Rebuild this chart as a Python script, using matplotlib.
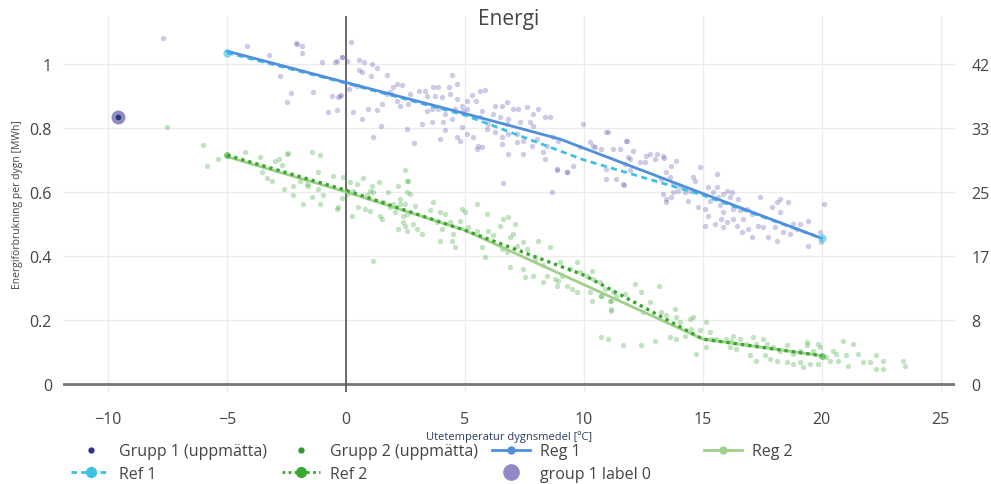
import matplotlib
matplotlib.use("Agg")
from matplotlib import pyplot as plt
from matplotlib.lines import Line2D
import numpy as np

plt.rcParams["font.family"] = ["Open Sans", "DejaVu Sans"]

# measured daily energy use, group 1 (outdoor temp [C], MWh)
g1_temp = [
    -7.69, -4.17, -2.10, -1.86, -1.86, -3.26, -2.77, -2.32, -2.47, -1.37, -1.02, -0.46, -0.39, -0.16,
    0.05, 0.20, -0.60, -0.32, -0.22, -0.74, -0.36, 0.28, 0.56, 0.76, 0.56, 0.66, 1.08, 1.32, 1.04,
    1.71, 2.13, 2.34, 1.99, 1.85, 1.71, 1.50, 1.29, 0.94, 0.66, 1.15, 1.46, 2.13, 2.27, 2.62, 2.69,
    3.08, 3.39, 3.18, 2.55, 2.86, 0.14, 0.45, -2.07, -0.25, -0.18,
    4.44, 3.67, 3.88, 4.34, 4.65, 3.32, 3.74, 4.02, 4.37, 4.68, 5.07, 5.46, 5.63, 5.84, 5.28, 3.39,
    3.60, 3.88, 4.16, 4.58, 4.86, 4.93, 5.07, 5.70, 5.63, 4.09, 3.60, 4.44, 4.86, 4.16, 3.95, 4.65,
    4.79, 5.07, 5.56, 5.70, 6.26, 6.54, 6.75, 7.03, 7.24, 7.59, 7.87, 8.08, 6.19, 6.47, 6.82, 6.75,
    7.31, 7.73, 7.87, 8.36, 8.57, 5.91, 6.26, 6.54, 6.82, 7.17, 7.45, 6.54, 6.82, 7.17, 7.45, 7.80,
    8.01, 8.29, 8.43, 8.71, 8.92, 8.36, 8.85, 9.27, 6.61, 8.64, 9.97, 9.83, 10.25, 10.46, 10.74,
    11.02, 11.23, 11.82, 10.95, 11.37, 11.68, 5.49, 5.35, 5.98,
    10.95, 10.39, 11.51, 11.93, 10.95, 12.63, 13.33, 13.47, 13.75, 9.55, 9.27, 8.85,
    11.79, 12.07, 11.86, 11.72, 11.93, 11.65, 12.35, 12.56, 12.77, 12.98, 13.08, 13.36, 13.89, 13.68,
    13.47, 13.26, 13.61, 13.75, 14.03, 13.96, 13.33, 13.47, 13.68, 14.24, 14.45, 14.66, 14.59, 14.87,
    14.80, 14.38, 15.22, 15.43, 15.58, 15.64, 15.58, 15.85, 16.00, 16.13, 16.21, 15.29, 15.71, 15.85,
    15.22, 15.08, 15.50, 15.78, 16.00, 15.85, 16.27, 16.48, 16.55, 16.27, 16.42, 16.84, 16.69, 17.05,
    16.63, 16.90, 17.05, 17.39, 17.32, 17.53, 17.89, 18.10, 18.24, 18.58, 17.74, 18.10, 18.03, 18.37,
    18.66, 18.79, 18.94, 19.08, 19.42, 19.42, 19.92, 20.08, 19.99, 18.24, 15.08,
]
g1_energy = [
    1.081, 1.057, 1.066, 1.057, 1.034, 1.028, 0.963, 0.908, 0.882, 0.911, 1.007, 1.005, 1.010, 1.021,
    1.010, 1.068, 0.901, 0.896, 0.903, 0.851, 0.857, 0.851, 1.013, 1.007, 0.982, 0.974, 1.000, 0.987, 0.963,
    0.966, 0.938, 0.934, 0.927, 0.911, 0.906, 0.875, 0.857, 0.859, 0.828, 0.771, 0.807, 0.885, 0.868, 0.875, 0.906,
    0.917, 0.901, 0.813, 0.797, 0.753, 0.922, 0.932, 1.063, 0.901, 1.021,
    0.966, 0.927, 0.927, 0.927, 0.938, 0.917, 0.901, 0.896, 0.906, 0.891, 0.885, 0.885, 0.917, 0.920, 0.903, 0.854,
    0.859, 0.859, 0.844, 0.859, 0.870, 0.854, 0.859, 0.854, 0.833, 0.818, 0.818, 0.828, 0.802, 0.792, 0.766, 0.771,
    0.760, 0.781, 0.745, 0.740, 0.870, 0.870, 0.882, 0.859, 0.859, 0.865, 0.844, 0.859, 0.844, 0.833, 0.828, 0.813,
    0.820, 0.818, 0.807, 0.833, 0.833, 0.797, 0.787, 0.771, 0.781, 0.781, 0.760, 0.750, 0.719, 0.755, 0.719, 0.745,
    0.766, 0.724, 0.745, 0.771, 0.760, 0.703, 0.672, 0.661, 0.628, 0.601, 0.813, 0.740, 0.755, 0.740, 0.734,
    0.787, 0.734, 0.760, 0.672, 0.641, 0.622, 0.734, 0.771, 0.813,
    0.786, 0.745, 0.734, 0.703, 0.641, 0.713, 0.713, 0.578, 0.599, 0.682, 0.661, 0.667,
    0.760, 0.729, 0.708, 0.688, 0.667, 0.625, 0.695, 0.695, 0.719, 0.703, 0.719, 0.705, 0.698, 0.682,
    0.662, 0.641, 0.646, 0.625, 0.620, 0.604, 0.594, 0.568, 0.583, 0.599, 0.604, 0.635, 0.646, 0.677,
    0.552, 0.573, 0.615, 0.599, 0.615, 0.583, 0.656, 0.594, 0.604, 0.583, 0.599, 0.573, 0.558, 0.536,
    0.526, 0.495, 0.500, 0.516, 0.505, 0.490, 0.547, 0.578, 0.542, 0.516, 0.495, 0.547, 0.516, 0.531,
    0.474, 0.484, 0.458, 0.583, 0.495, 0.490, 0.552, 0.568, 0.578, 0.568, 0.458, 0.448, 0.490, 0.474,
    0.469, 0.500, 0.484, 0.500, 0.510, 0.432, 0.474, 0.563, 0.443, 0.536, 0.547,
]

# measured daily energy use, group 2
g2_temp = [
    -7.53, -6.02, -5.85, -5.37, -4.24, -3.61, -3.54, -3.33, -3.12, -2.98, -2.84, -2.70, -2.49, -2.42,
    -1.44, -1.09, -2.63, -2.21, -2.21, -1.93, -1.79, -1.65, -1.58, -1.44, -1.16, -1.16, -1.09, -0.95,
    -0.53, -0.39, -0.32, -0.11, 0.03, -0.18, 0.17, 0.31, 0.45, 0.24, 0.52, 0.73, 0.80, 0.87, 1.01,
    1.08, 1.15, 1.01, 1.40, 1.43, 1.50, 1.57, 1.78, 1.85, 1.99, 2.06, 2.20, 2.27, 2.41, 2.48, 2.20,
    2.55, 2.62, 2.48, 1.12,
    2.55, 2.69, 2.27, 2.48, 2.90, 2.55, 2.41, 2.55, 2.83, 2.97, 3.18, 3.53, 3.67, 3.95, 4.16, 3.81,
    4.02, 4.37, 4.51, 4.58, 4.44, 4.86, 5.00, 4.79, 5.49, 5.14, 5.49, 5.91, 5.98, 5.70, 5.84, 6.19,
    6.47, 6.61, 6.82, 7.10, 6.89, 6.54, 6.75, 7.03, 7.17, 7.45, 7.59, 6.89, 7.45, 7.52, 7.87, 8.08,
    7.94, 8.29, 8.43, 8.57, 8.29, 8.78, 8.85, 8.92, 9.06, 9.27, 8.99, 9.48, 9.69, 9.41, 9.69, 9.83,
    10.11, 10.32, 10.39, 10.25, 10.32, 10.74, 10.88, 11.09, 11.23, 11.16, 11.37, 3.95,
    10.67, 10.74, 11.16, 11.16, 11.72, 12.14, 12.42, 12.49, 12.77, 13.16, 13.26, 13.47, 13.82, 13.89,
    14.03, 14.45, 14.59, 14.52, 14.24, 14.87, 15.15, 15.29, 15.36, 15.15, 14.73, 10.74, 11.02, 11.65,
    12.42, 12.98, 13.61, 13.89, 15.57, 15.99, 16.27, 16.55, 16.83, 16.13, 16.41, 16.20, 17.11, 17.25,
    17.53, 17.68, 17.95, 18.24, 18.52, 18.80, 19.08, 19.36, 19.64, 19.92, 16.97, 17.25, 17.60, 17.82,
    18.10, 18.52, 18.80, 19.08, 19.22, 19.50, 19.84, 20.20, 20.48, 20.62, 20.89, 20.68, 21.04, 21.31,
    21.10, 21.52, 21.73, 22.01, 22.30, 22.58, 22.30, 22.58, 23.41, 23.48, 20.34, 19.36, 19.84,
]
g2_energy = [
    0.802, 0.747, 0.680, 0.703, 0.726, 0.708, 0.661, 0.643, 0.635, 0.698, 0.703, 0.684, 0.719, 0.722,
    0.724, 0.716, 0.609, 0.620, 0.589, 0.635, 0.563, 0.625, 0.620, 0.583, 0.661, 0.609, 0.563, 0.589,
    0.651, 0.547, 0.552, 0.646, 0.594, 0.580, 0.630, 0.604, 0.625, 0.526, 0.552, 0.643, 0.547, 0.589, 0.604,
    0.620, 0.599, 0.541, 0.630, 0.526, 0.516, 0.568, 0.599, 0.552, 0.563, 0.536, 0.620, 0.563, 0.526, 0.495, 0.484,
    0.599, 0.635, 0.667, 0.385,
    0.635, 0.594, 0.578, 0.563, 0.557, 0.531, 0.505, 0.479, 0.500, 0.484, 0.469, 0.542, 0.568, 0.536, 0.531, 0.505,
    0.484, 0.505, 0.469, 0.427, 0.448, 0.547, 0.536, 0.510, 0.563, 0.490, 0.479, 0.531, 0.479, 0.427, 0.396, 0.464,
    0.495, 0.516, 0.521, 0.500, 0.458, 0.422, 0.412, 0.469, 0.432, 0.443, 0.422, 0.365, 0.359, 0.333, 0.338, 0.448,
    0.391, 0.370, 0.338, 0.427, 0.318, 0.328, 0.307, 0.323, 0.338, 0.307, 0.380, 0.297, 0.287, 0.359, 0.380, 0.349,
    0.338, 0.354, 0.328, 0.287, 0.260, 0.276, 0.297, 0.260, 0.287, 0.229, 0.276, 0.448,
    0.318, 0.276, 0.234, 0.260, 0.281, 0.313, 0.287, 0.224, 0.255, 0.307, 0.224, 0.214, 0.234, 0.208,
    0.193, 0.203, 0.208, 0.172, 0.151, 0.167, 0.193, 0.161, 0.141, 0.115, 0.094, 0.146, 0.141, 0.120,
    0.122, 0.135, 0.146, 0.141, 0.141, 0.141, 0.151, 0.141, 0.125, 0.115, 0.109, 0.135, 0.146, 0.125,
    0.141, 0.125, 0.115, 0.104, 0.120, 0.094, 0.104, 0.120, 0.104, 0.115, 0.089, 0.073, 0.089, 0.078,
    0.073, 0.068, 0.063, 0.068, 0.052, 0.063, 0.063, 0.083, 0.104, 0.094, 0.135, 0.073, 0.089, 0.125,
    0.057, 0.094, 0.068, 0.068, 0.089, 0.073, 0.047, 0.047, 0.073, 0.057, 0.073, 0.130, 0.125,
]

# regression and reference curves
curve_temp = [-5, 0, 5, 10, 15, 20]
reg1_temp = [-5, 0, 5, 9, 15, 20]
reg1 = [1.04, 0.942, 0.845, 0.765, 0.595, 0.455]
ref1 = [1.035, 0.94, 0.84, 0.70, 0.59, 0.455]
reg2 = [0.71, 0.60, 0.48, 0.31, 0.14, 0.088]
ref2 = [0.715, 0.605, 0.48, 0.34, 0.14, 0.088]

# highlighted sample
label0_temp = -9.6
label0_energy = 0.835

y_ticks = [0, 0.2, 0.4, 0.6, 0.8, 1]
y_tick_labels = ["0", "0.2", "0.4", "0.6", "0.8", "1"]
right_tick_labels = ["0", "8", "17", "25", "33", "42"]
x_ticks = [-10, -5, 0, 5, 10, 15, 20, 25]

c_g1 = "#4a3fa8"
c_g2 = "#37a52f"
c_reg1 = "#4f8fdc"
c_ref1 = "#3cc0e4"
c_reg2 = "#9fd18b"
c_ref2 = "#3aa82e"
c_label0 = "#8f89c6"
txt = "#444444"

fig = plt.figure(figsize=(9.91, 4.85), dpi=100)
ax = fig.add_axes([0.0636, 0.19, 0.9, 0.775])

ax.scatter(g1_temp, g1_energy, s=15, color=c_g1, alpha=0.27, linewidths=0, zorder=3)
ax.scatter(g2_temp, g2_energy, s=15, color=c_g2, alpha=0.3, linewidths=0, zorder=3)

ax.plot(curve_temp, ref1, color=c_ref1, lw=2, ls=(0, (2.2, 1.6)), zorder=4)
ax.plot(reg1_temp, reg1, color=c_reg1, lw=2, zorder=4)
ax.plot(curve_temp, reg2, color=c_reg2, lw=2, zorder=4)
ax.plot(curve_temp, ref2, color=c_ref2, lw=2.4, ls=(0, (1, 1.2)), zorder=5)
ax.plot([curve_temp[0], curve_temp[-1]], [ref1[0], ref1[-1]], "o", ms=6,
        color=c_ref1, alpha=0.6, mew=0, zorder=5)
ax.plot([curve_temp[0], curve_temp[-1]], [ref2[0], ref2[-1]], "o", ms=5,
        color=c_ref2, alpha=0.6, mew=0, zorder=5)

ax.plot(label0_temp, label0_energy, "o", ms=10, color=c_label0, mew=0, zorder=6)
ax.plot(label0_temp, label0_energy, "o", ms=4, color="#1f3b6e", mew=0, zorder=7)

ax.axhline(0, color="#777777", lw=2, zorder=2)
ax.axvline(0, color="#555555", lw=1.2, zorder=2)

ax.set_xlim(-11.9, 25.6)
ax.set_ylim(-0.025, 1.15)
ax.set_xticks(x_ticks)
ax.set_xticklabels([str(v).replace("-", "\u2212") for v in x_ticks])
ax.set_yticks(y_ticks)
ax.set_yticklabels(y_tick_labels)
ax.grid(True, color="#ececec", lw=1, zorder=0)
ax.set_axisbelow(True)
ax.tick_params(length=0, labelsize=11.5, labelcolor=txt)
ax.tick_params(axis="x", pad=14)
ax.tick_params(axis="y", pad=8)
for s in ax.spines.values():
    s.set_visible(False)

ax2 = ax.twinx()
ax2.set_ylim(ax.get_ylim())
ax2.set_yticks(y_ticks)
ax2.set_yticklabels(right_tick_labels)
ax2.tick_params(length=0, labelsize=11.5, labelcolor=txt, pad=12)
for s in ax2.spines.values():
    s.set_visible(False)

ax.set_title("Energi", fontsize=15, color=txt, pad=-6, y=1.0)
ax.set_xlabel("Utetemperatur dygnsmedel [ºC]", fontsize=8, color="#2a3f5f", labelpad=2)
ax.set_ylabel("Energiförbrukning per dygn [MWh]", fontsize=7.5, color=txt, labelpad=5)

handles = [
    Line2D([], [], ls="", marker="o", ms=3.5, color="#2e2f8f"),
    Line2D([], [], color=c_ref1, lw=2, ls=(0, (2, 1.5)), marker="o", ms=7),
    Line2D([], [], ls="", marker="o", ms=3.5, color="#2b9a2b"),
    Line2D([], [], color=c_ref2, lw=2, ls=(0, (1, 1.2)), marker="o", ms=7),
    Line2D([], [], color=c_reg1, lw=2, marker="o", ms=5),
    Line2D([], [], ls="", marker="o", ms=11, color=c_label0),
]
labels = ["Grupp 1 (uppmätta)", "Ref 1", "Grupp 2 (uppmätta)", "Ref 2",
          "Reg 1", "group 1 label 0"]
leg_style = dict(frameon=False, fontsize=11.5, handlelength=2.4, handletextpad=0.6,
                 labelspacing=0.38, borderpad=0, numpoints=1)
leg = fig.legend(handles, labels, ncol=3, loc="upper left", bbox_to_anchor=(0.064, 0.1),
                 columnspacing=0.9, **leg_style)
leg2 = fig.legend([Line2D([], [], color=c_reg2, lw=2, marker="o", ms=5)], ["Reg 2"],
                  loc="upper left", bbox_to_anchor=(0.702, 0.1), **leg_style)
for lg in (leg, leg2):
    for t in lg.get_texts():
        t.set_color(txt)

fig.savefig("out.png", dpi=100)
